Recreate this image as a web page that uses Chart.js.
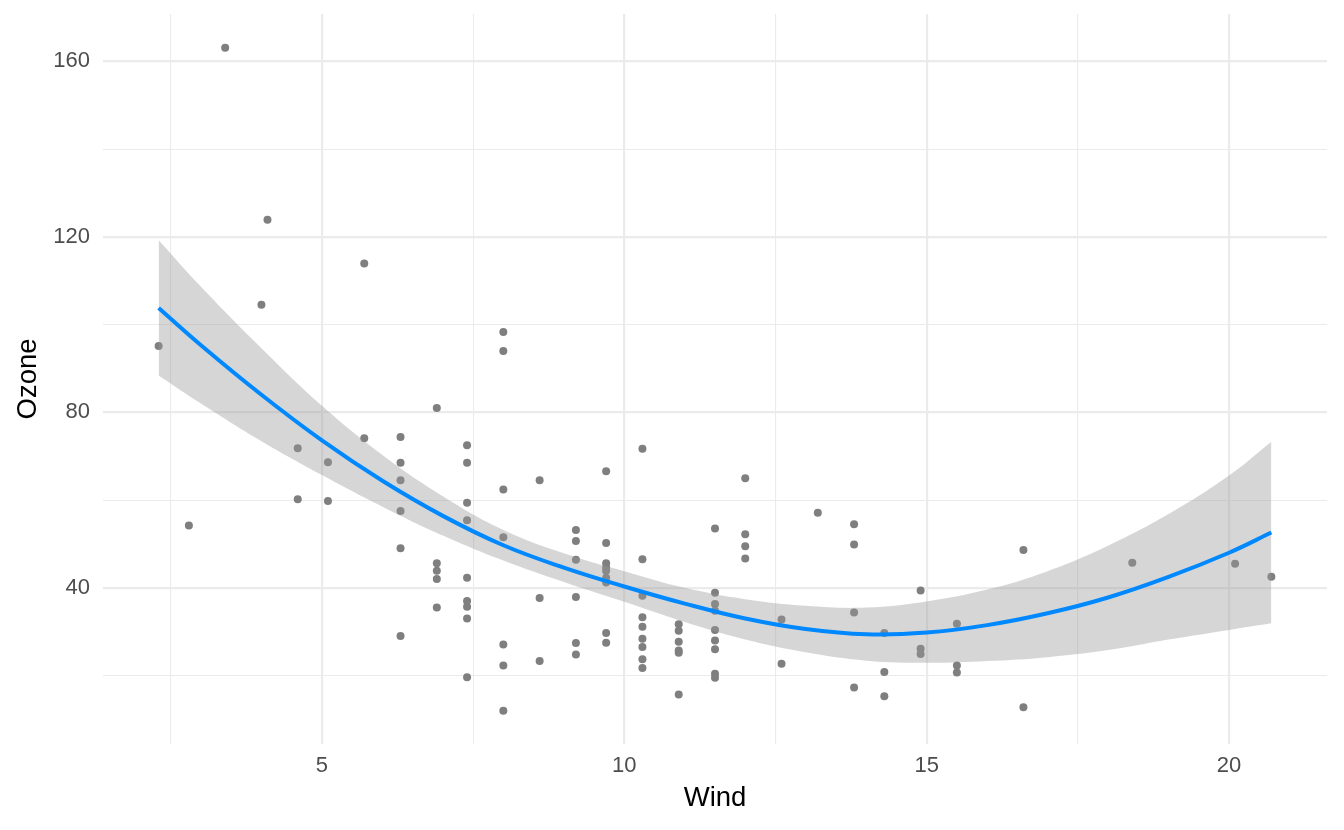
<!DOCTYPE html>
<html lang="en">
<head>
  <meta charset="UTF-8">
  <title>Ozone vs Wind</title>
  <script src="https://cdn.jsdelivr.net/npm/chart.js"></script>
  <style>
    html, body {
      margin: 0;
      background: white;
    }
    #wrap {
      width: 1344px;
      height: 830px;
    }
  </style>
</head>
<body>
  <div id="wrap"><canvas id="ozoneCanvas"></canvas></div>

  <script>
    const windObs = [
      2.3, 2.8, 3.4, 4.0, 4.1,
      4.6, 4.6, 5.1, 5.1, 5.7, 5.7,
      6.3, 6.3, 6.3, 6.3, 6.3, 6.3,
      6.9, 6.9, 6.9, 6.9, 6.9,
      7.4, 7.4, 7.4, 7.4, 7.4, 7.4, 7.4, 7.4, 7.4,
      8.0, 8.0, 8.0, 8.0, 8.0, 8.0, 8.0,
      8.6, 8.6, 8.6,
      9.2, 9.2, 9.2, 9.2, 9.2, 9.2,
      9.7, 9.7, 9.7, 9.7, 9.7, 9.7, 9.7, 9.7, 9.7,
      10.3, 10.3, 10.3, 10.3, 10.3, 10.3, 10.3, 10.3, 10.3,
      10.9, 10.9, 10.9, 10.9, 10.9, 10.9,
      11.5, 11.5, 11.5, 11.5, 11.5, 11.5, 11.5, 11.5, 11.5,
      12.0, 12.0, 12.0, 12.0,
      12.6, 12.6, 13.2,
      13.8, 13.8, 13.8, 13.8,
      14.3, 14.3, 14.3,
      14.9, 14.9, 14.9,
      15.5, 15.5, 15.5,
      16.6, 16.6, 18.4, 20.1, 20.7
    ];
    const ozoneObs = [
      95.1, 54.2, 163.1, 104.5, 123.9,
      71.8, 60.2, 68.6, 59.8, 113.9, 74.1,
      74.4, 68.5, 64.5, 57.5, 49.0, 29.0,
      81.0, 45.6, 43.9, 42.0, 35.5,
      72.5, 68.5, 59.4, 55.4, 42.3, 37.0, 35.7, 33.0, 19.6,
      98.3, 94.0, 62.4, 51.5, 27.1, 22.3, 12.0,
      64.5, 37.7, 23.3,
      53.2, 50.7, 46.4, 37.9, 27.4, 24.8,
      66.6, 50.2, 45.6, 44.6, 43.9, 42.3, 41.2, 29.7, 27.5,
      71.7, 46.5, 38.2, 33.3, 31.1, 28.4, 26.5, 23.7, 21.7,
      31.7, 30.2, 27.7, 25.7, 25.2, 15.7,
      53.5, 38.9, 36.3, 34.8, 30.4, 28.0, 26.0, 20.4, 19.5,
      65.0, 52.2, 49.5, 46.7,
      32.8, 22.7, 57.1,
      54.5, 49.9, 34.4, 17.3,
      29.7, 20.8, 15.3,
      39.4, 26.1, 24.9,
      31.8, 22.3, 20.7,
      48.6, 12.8, 45.7, 45.5, 42.5
    ];

    // fitted curve and its confidence band
    const fitWind  = [2.3, 3, 4, 5, 6, 7, 8, 9, 10, 11, 12, 13, 14, 15, 16, 17, 18, 19, 20, 20.7];
    const fitOzone = [103.8, 95.3, 84.0, 73.6, 64.4, 56.4, 49.7, 44.6, 40.3, 36.4, 33.0, 30.6, 29.4, 29.8, 31.5, 34.2, 37.8, 42.5, 48.0, 52.6];
    const fitUpper = [119.2, 108.6, 94.6, 81.5, 70.3, 60.9, 53.2, 47.9, 43.8, 40.0, 37.4, 35.9, 35.5, 36.9, 39.6, 43.8, 49.6, 56.8, 65.6, 73.3];
    const fitLower = [88.4, 82.0, 73.4, 65.7, 58.5, 51.9, 46.2, 41.3, 36.8, 32.2, 28.2, 25.3, 23.4, 22.9, 23.3, 24.2, 25.8, 28.2, 30.4, 31.9];

    // gridline positions (major + minor)
    const xTicks = [2.5, 5, 7.5, 10, 12.5, 15, 17.5, 20];
    const yTicks = [20, 40, 60, 80, 100, 120, 140, 160];

    const toXY = (xs, ys) => xs.map((x, i) => ({ x, y: ys[i] }));

    const gridColor = '#ebebeb';
    const fontFamily = "'Liberation Sans', Arial, sans-serif";

    const ctx = document.getElementById('ozoneCanvas').getContext('2d');
    new Chart(ctx, {
      type: 'scatter',
      data: {
        datasets: [
          {
            label: 'fit',
            data: toXY(fitWind, fitOzone),
            showLine: true,
            borderColor: '#0088ff',
            borderWidth: 4,
            pointRadius: 0,
            tension: 0.4,
            order: 0
          },
          {
            label: 'upper',
            data: toXY(fitWind, fitUpper),
            showLine: true,
            borderWidth: 0,
            borderColor: 'rgba(0,0,0,0)',
            pointRadius: 0,
            tension: 0.4,
            fill: '+1',
            backgroundColor: 'rgba(153,153,153,0.4)',
            order: 1
          },
          {
            label: 'lower',
            data: toXY(fitWind, fitLower),
            showLine: true,
            borderWidth: 0,
            borderColor: 'rgba(0,0,0,0)',
            pointRadius: 0,
            tension: 0.4,
            order: 2
          },
          {
            label: 'Ozone',
            data: toXY(windObs, ozoneObs),
            pointRadius: 4,
            pointBorderWidth: 0,
            backgroundColor: '#7f7f7f',
            borderColor: '#7f7f7f',
            order: 3
          }
        ]
      },
      options: {
        animation: false,
        responsive: true,
        maintainAspectRatio: false,
        layout: { padding: { top: 14, right: 17, left: 0, bottom: 0 } },
        plugins: {
          legend: { display: false },
          tooltip: { enabled: false }
        },
        scales: {
          x: {
            type: 'linear',
            min: 1.38,
            max: 21.62,
            border: { display: false },
            afterBuildTicks: s => { s.ticks = xTicks.map(v => ({ value: v })); },
            afterFit: s => { s.height = 86; s.paddingLeft = 0; s.paddingRight = 0; },
            grid: {
              color: gridColor,
              drawTicks: false,
              lineWidth: c => (c.tick && c.tick.value % 5 === 0) ? 2.2 : 1.1
            },
            ticks: {
              padding: 9,
              color: '#4d4d4d',
              font: { family: fontFamily, size: 22 },
              maxRotation: 0,
              callback: v => (v % 5 === 0 ? v : '')
            },
            title: {
              display: true,
              text: 'Wind',
              color: '#000',
              font: { family: fontFamily, size: 27.5 },
              padding: { top: 0, bottom: 15 }
            }
          },
          y: {
            type: 'linear',
            min: 4.4,
            max: 170.8,
            border: { display: false },
            afterBuildTicks: s => { s.ticks = yTicks.map(v => ({ value: v })); },
            afterFit: s => { s.width = 103; s.paddingTop = 0; s.paddingBottom = 0; },
            grid: {
              color: gridColor,
              drawTicks: false,
              lineWidth: c => (c.tick && c.tick.value % 40 === 0) ? 2.2 : 1.1
            },
            ticks: {
              padding: 13,
              color: '#4d4d4d',
              font: { family: fontFamily, size: 22 },
              callback: v => (v % 40 === 0 ? v : '')
            },
            title: {
              display: true,
              text: 'Ozone',
              color: '#000',
              font: { family: fontFamily, size: 27.5 },
              padding: { top: 12, bottom: 0 }
            }
          }
        }
      }
    });
  </script>
</body>
</html>
